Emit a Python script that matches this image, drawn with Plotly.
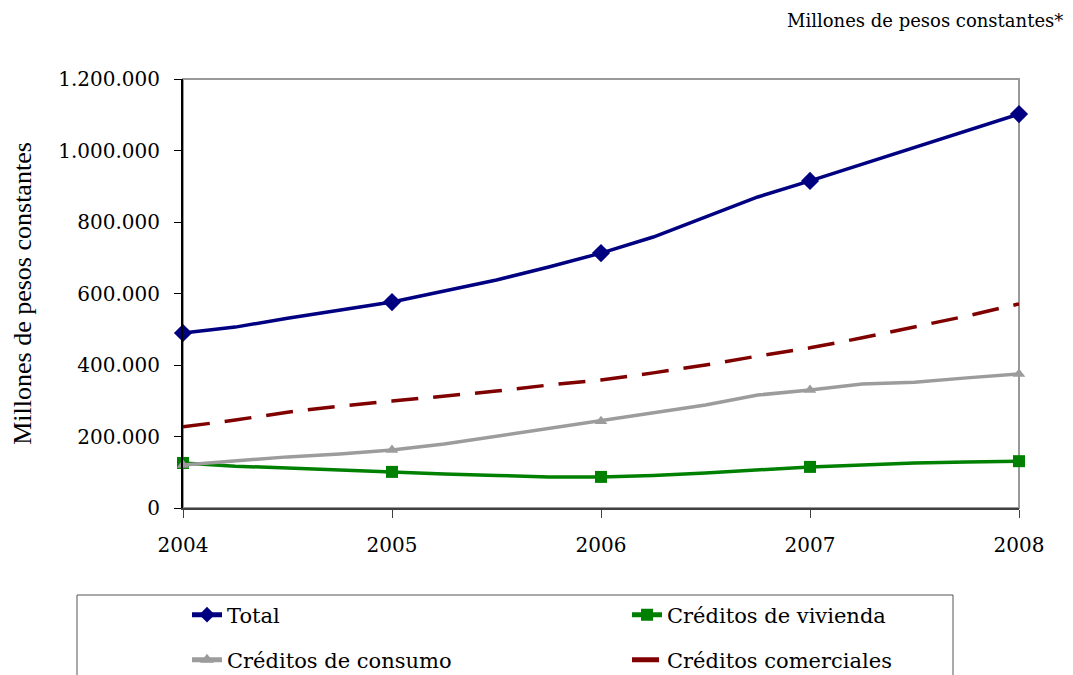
import plotly.graph_objects as go

periods = [2004, 2004.25, 2004.5, 2004.75, 2005, 2005.25, 2005.5, 2005.75,
           2006, 2006.25, 2006.5, 2006.75, 2007, 2007.25, 2007.5, 2007.75, 2008]
year_ticks = [2004, 2005, 2006, 2007, 2008]
y_ticks = [0, 200000, 400000, 600000, 800000, 1000000, 1200000]

total = [489500, 506000, 531000, 554000, 576000, 607000, 638000, 674000,
         713000, 758000, 814000, 870000, 915000, 962000, 1010000, 1055000, 1102000]
vivienda = [126000, 117000, 112000, 106000, 101000, 95000, 91000, 87000,
            87000, 91000, 98000, 106000, 115000, 120000, 126000, 129000, 131000]
consumo = [120000, 131000, 143000, 151000, 162000, 179000, 201000, 221000,
           243000, 266000, 288000, 316000, 330000, 347000, 352000, 364000, 375000]
comerciales = [227000, 246000, 268000, 285000, 299000, 313000, 327000, 344000,
               358000, 378000, 400000, 425000, 448000, 476000, 506000, 537000, 571000]

FONT = "DejaVu Serif"
TFONT = "Liberation Serif"

def msizes(s):
    return [s if p in year_ticks else 0 for p in periods]

fig = go.Figure()
fig.add_trace(go.Scatter(x=periods, y=total, name="Total", mode="lines+markers",
                         line=dict(color="#000080", width=3.5),
                         marker=dict(symbol="diamond", size=msizes(14), color="#000080",
                                     opacity=1, line=dict(width=0)),
                         cliponaxis=False, legend="legend"))
fig.add_trace(go.Scatter(x=periods, y=vivienda, name="Créditos de vivienda", mode="lines+markers",
                         line=dict(color="#008000", width=3.5),
                         marker=dict(symbol="square", size=msizes(12), color="#008000",
                                     opacity=1, line=dict(width=0)),
                         cliponaxis=False, legend="legend2"))
fig.add_trace(go.Scatter(x=periods, y=consumo, name="Créditos de consumo", mode="lines+markers",
                         line=dict(color="#9c9c9c", width=3.5),
                         marker=dict(symbol="triangle-up", size=msizes(11), color="#9c9c9c",
                                     opacity=1, line=dict(width=0)),
                         cliponaxis=False, legend="legend3"))
fig.add_trace(go.Scatter(x=periods, y=comerciales, name="Créditos comerciales", mode="lines",
                         line=dict(color="#800000", width=3.5, dash="27px,15px"),
                         cliponaxis=False, legend="legend4"))

# page has an 8px body margin; work in figure coordinates
W, H = 1065, 667
L, R, T, B = 175, 1011, 71, 500

def px(xp):
    return (xp - L) / (R - L)

def py(yp):
    return (B - yp) / (B - T)

legend_common = dict(orientation="h", xanchor="left", yanchor="middle",
                     bgcolor="rgba(0,0,0,0)", itemsizing="constant",
                     font=dict(family=FONT, size=21, color="black"))

fig.update_layout(
    width=W, height=H,
    margin=dict(l=L, r=W - R, t=T, b=H - B, autoexpand=False),
    paper_bgcolor="white", plot_bgcolor="white",
    separators=",.",
    font=dict(family=FONT, size=20, color="black"),
    showlegend=True,
    legend=dict(x=px(179), y=py(607), **legend_common),
    legend2=dict(x=px(619), y=py(607), **legend_common),
    legend3=dict(x=px(179), y=py(652), **legend_common),
    legend4=dict(x=px(619), y=py(652), **legend_common),
    shapes=[
        dict(type="rect", xref="paper", yref="paper", x0=0, x1=1, y0=0, y1=1,
             line=dict(color="#999999", width=2), layer="below"),
        dict(type="rect", xref="paper", yref="paper", x0=px(69), x1=px(945),
             y0=py(587), y1=py(720), line=dict(color="#555555", width=1), layer="below"),
    ],
    annotations=[
        dict(text="Millones de pesos constantes*", xref="paper", yref="paper",
             x=px(1057), y=py(12), xanchor="right", yanchor="middle", showarrow=False,
             font=dict(family=FONT, size=18)),
    ],
)
fig.update_xaxes(range=[2004, 2008], tickvals=year_ticks, ticktext=[str(y) for y in year_ticks],
                 showgrid=False, zeroline=False, showline=True, linecolor="#404040", linewidth=2,
                 ticks="outside", ticklen=8, tickcolor="#404040", tickwidth=1,
                 ticklabelstandoff=10,
                 tickfont=dict(family=FONT, size=20))
fig.update_yaxes(range=[0, 1200000], tickvals=y_ticks, tickformat=",d",
                 showgrid=False, zeroline=False, showline=True, linecolor="black", linewidth=2,
                 ticks="outside", ticklen=7, tickcolor="black", tickwidth=1,
                 ticklabelstandoff=10,
                 tickfont=dict(family=FONT, size=20),
                 title=dict(text="Millones de pesos constantes", font=dict(family=TFONT, size=26),
                            standoff=22))

fig.write_html("out.html")
